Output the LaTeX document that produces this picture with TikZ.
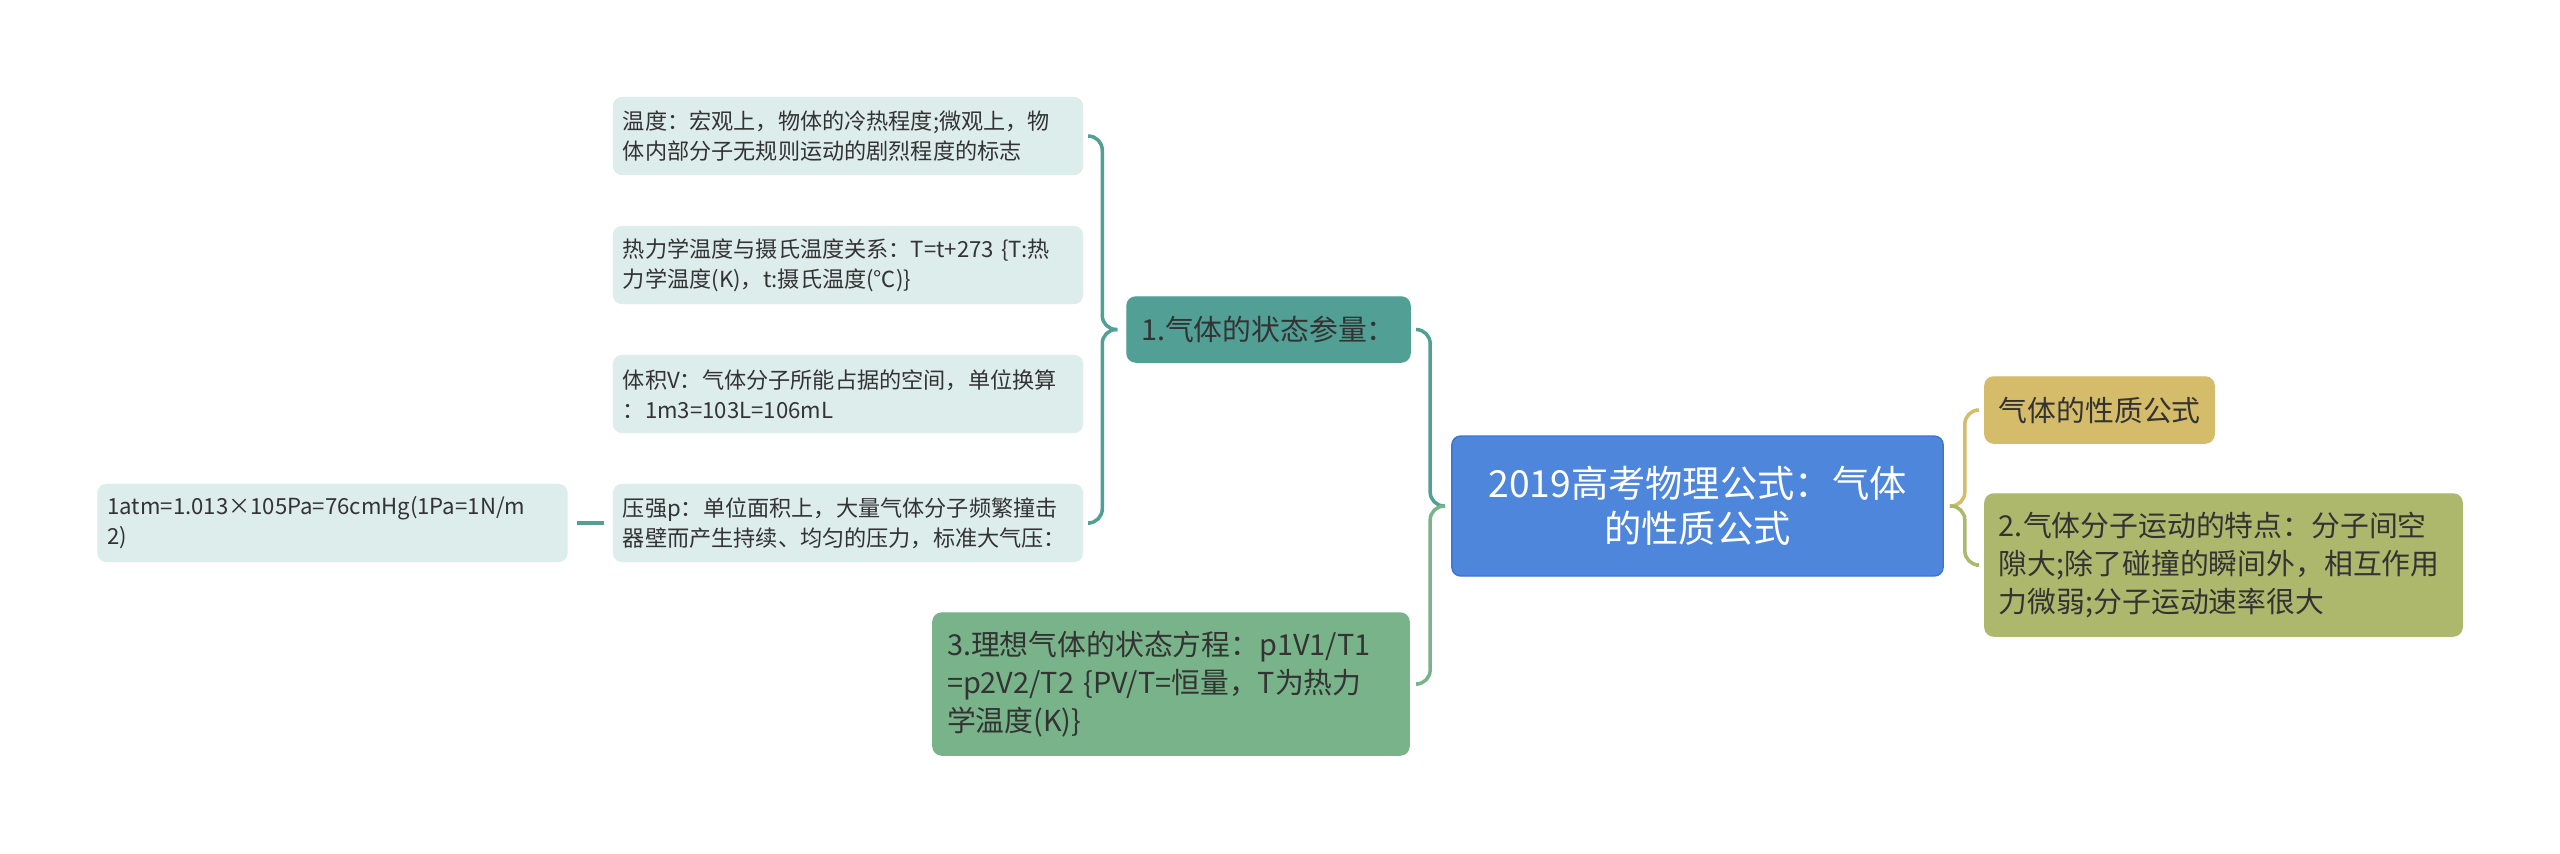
\documentclass[tikz,border=0pt]{standalone}
\usepackage{fontspec}
\setmainfont{Noto Sans CJK SC}
\usetikzlibrary{calc}

\definecolor{rootblue}{HTML}{4E86DC}
\definecolor{rootline}{HTML}{3F74CC}
\definecolor{tealbox}{HTML}{529F95}
\definecolor{greenbox}{HTML}{79B38A}
\definecolor{goldbox}{HTML}{D4BC6A}
\definecolor{olivebox}{HTML}{ADB86C}
\definecolor{leafbg}{HTML}{DDEDEB}
\definecolor{txt}{HTML}{333333}

\begin{document}
\begin{tikzpicture}[x=0.01cm, y=-0.01cm,
    box/.style={rounded corners=2.5pt, text=txt, align=left, inner ysep=2pt},
    rootbox/.style={box, draw=rootline, fill=rootblue, text=white, align=center,
        minimum width=139.7pt, minimum height=39.8pt, text width=131.7pt, inner xsep=4pt,
        font=\fontsize{10.6}{12.8}\selectfont},
    topicbox/.style={box, inner xsep=4pt, font=\fontsize{8.2}{10.8}\selectfont},
    leafbox/.style={box, fill=leafbg, minimum height=22.2pt, text width=128pt, inner xsep=2.85pt,
        font=\fontsize{6.3}{8.5}\selectfont},
    brace/.style={line width=1pt, rounded corners=4pt}
]
    \useasboundingbox (0,0) rectangle (2560,853);
    \fill[white] (0,0) rectangle (2560,853);

    % root
    \node[rootbox] (root) at (1697.5,506) {2019高考物理公式：气体\\的性质公式};

    % left side
    \node[topicbox, draw=tealbox, fill=tealbox, minimum height=18.5pt, text width=72.5pt] (state) at (1268.5,329.5) {1.气体的状态参量：};
    \node[topicbox, draw=greenbox, fill=greenbox, minimum height=40.4pt, text width=127.4pt] (ideal) at (1171,684)
        {3.理想气体的状态方程：p1V1/T1\\=p2V2/T2 \{PV/T=恒量，T为热力\\学温度(K)\}};

    % leaves of state
    \node[leafbox] (temp) at (848,136) {温度：宏观上，物体的冷热程度;微观上，物\\体内部分子无规则运动的剧烈程度的标志};
    \node[leafbox] (kelvin) at (848,265) {热力学温度与摄氏温度关系：T=t+273 \{T:热\\力学温度(K)，t:摄氏温度(℃)\}};
    \node[leafbox] (volume) at (848,394) {体积V：气体分子所能占据的空间，单位换算\\：1m3=103L=106mL};
    \node[leafbox] (press) at (848,523) {压强p：单位面积上，大量气体分子频繁撞击\\器壁而产生持续、均匀的压力，标准大气压：};
    \node[leafbox] (atm) at (332.5,523) {1atm=1.013×105Pa=76cmHg(1Pa=1N/m\\2)};

    % right side
    \node[topicbox, draw=goldbox, fill=goldbox, minimum height=18.8pt, text width=57.2pt] (prop) at (2099.5,410) {气体的性质公式};
    \node[topicbox, draw=olivebox, fill=olivebox, minimum height=40.4pt, text width=127.7pt] (motion) at (2223.5,565)
        {2.气体分子运动的特点：分子间空\\隙大;除了碰撞的瞬间外，相互作用\\力微弱;分子运动速率很大};

    % braces
    \coordinate (t1) at ($(state.west)+(-9,0)$);
    \coordinate (v1) at ($(state.west)+(-24,0)$);
    \draw[brace, tealbox] ($(temp.east)+(6,0)$) -| (v1) -- (t1);
    \draw[brace, tealbox] (t1) -- (v1) |- ($(press.east)+(6,0)$);

    \coordinate (t0) at ($(root.west)+(-6,0)$);
    \coordinate (v0) at ($(root.west)+(-21,0)$);
    \draw[brace, tealbox] ($(state.east)+(8,0)$) -| (v0) -- (t0);
    \draw[brace, greenbox] (t0) -- (v0) |- ($(ideal.east)+(8,0)$);

    \coordinate (t2) at ($(root.east)+(6,0)$);
    \coordinate (v2) at ($(root.east)+(21,0)$);
    \draw[brace, goldbox] ($(prop.west)+(-8,0)$) -| (v2) -- (t2);
    \draw[brace, olivebox] (t2) -- (v2) |- ($(motion.west)+(-8,0)$);

    % atm line
    \draw[line width=1pt, tealbox] ($(atm.east)+(9,0)$) -- ($(press.west)+(-8,0)$);
\end{tikzpicture}
\end{document}
